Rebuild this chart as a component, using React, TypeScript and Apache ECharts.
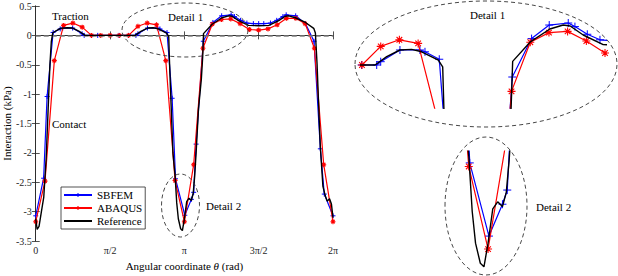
import React, { useEffect, useRef } from 'react';
import * as echarts from 'echarts';

const PI = Math.PI;
const thetaTickLabels = ['0', 'π/2', 'π', '3π/2', '2π'];

// ABAQUS nodes (uniform mesh, angle in rad) and interaction (kPa)
const abaqusTheta = [0, 0.196, 0.393, 0.589, 0.785, 0.982, 1.178, 1.374, 1.571, 1.767, 1.963, 2.16, 2.356, 2.553, 2.749, 2.945, 3.142, 3.338, 3.534, 3.731, 3.927, 4.123, 4.32, 4.516, 4.712, 4.909, 5.105, 5.301, 5.498, 5.694, 5.89, 6.087, 6.283];
const abaqusValues = [-3.17, -2.48, -0.43, 0.17, 0.21, 0.14, 0, 0, 0, 0, 0, 0.155, 0.21, 0.18, -0.43, -2.47, -3.17, -2.2, -0.22, 0.19, 0.27, 0.28, 0.2, 0.1, 0.09, 0.11, 0.18, 0.29, 0.29, 0.2, -0.22, -2.2, -3.17];

// SBFEM nodes
const sbfemTheta = [0, 0.167, 0.24, 0.367, 0.517, 0.57, 0.78, 0.98, 1.024, 1.31, 1.76, 1.96, 2.118, 2.16, 2.362, 2.572, 2.625, 2.775, 2.883, 2.955, 3.151, 3.289, 3.338, 3.39, 3.542, 3.745, 3.93, 4.13, 4.2, 4.33, 4.463, 4.6, 4.712, 4.82, 4.961, 5.094, 5.224, 5.294, 5.494, 5.7, 5.882, 6.016, 6.099, 6.283];
const sbfemValues = [-3.07, -2.43, -1.04, 0.05, 0.11, 0.125, 0.125, 0.0275, 0, 0, 0, 0, 0, 0.0275, 0.125, 0.125, 0.11, 0.048, -1.07, -2.44, -3.06, -2.79, -2.67, -1.85, -0.1, 0.22, 0.333, 0.35, 0.32, 0.256, 0.21, 0.2, 0.2, 0.2, 0.21, 0.256, 0.32, 0.35, 0.333, 0.2, -0.1, -1.93, -2.7, -3.07];

// Reference solution
const referenceTheta = [0, 0.03, 0.07, 0.12, 0.17, 0.22, 0.26, 0.3, 0.33, 0.36, 0.52, 0.66, 0.78, 0.92, 1.04, 2.1, 2.223, 2.362, 2.485, 2.59, 2.765, 2.811, 2.825, 2.85, 2.9, 2.945, 2.98, 3.014, 3.063, 3.1, 3.142, 3.19, 3.24, 3.289, 3.328, 3.357, 3.39, 3.44, 3.5, 3.53, 3.546, 3.728, 3.937, 4.077, 4.15, 4.287, 4.497, 4.712, 4.927, 5.137, 5.274, 5.347, 5.487, 5.7, 5.876, 5.911, 5.947, 5.99, 6.016, 6.07, 6.12, 6.16, 6.21, 6.25, 6.283];
const referenceValues = [-3.12, -3.3, -3.25, -3.0, -2.75, -2.1, -1.3, -0.5, -0.1, 0.045, 0.12, 0.13, 0.125, 0.07, 0, 0, 0.07, 0.125, 0.13, 0.11, 0.04, -0.015, -0.4, -0.95, -2.0, -2.38, -2.85, -3.12, -3.29, -3.32, -3.12, -2.83, -2.77, -2.81, -2.69, -2.42, -2.0, -1.25, -0.75, -0.35, 0.03, 0.19, 0.3, 0.333, 0.325, 0.25, 0.17, 0.165, 0.17, 0.25, 0.325, 0.333, 0.3, 0.22, 0.12, 0.04, -0.5, -1.4, -1.9, -2.57, -2.73, -2.82, -2.78, -2.87, -3.1];

const pair = (xs: number[], ys: number[]) => xs.map((x, i) => [x, ys[i]]);

const FONT = 'Liberation Serif';
const AXIS_COLOR = '#262626';
const PLUS = 'path://M5,0L5,10M0,5L10,5';
const STAR = 'path://M5,0L5,10M0,5L10,5M1.5,1.5L8.5,8.5M8.5,1.5L1.5,8.5';

function seriesFor(idx: number, markerSize: number, main: boolean) {
  const s: any[] = [
    {
      name: 'SBFEM', type: 'line', xAxisIndex: idx, yAxisIndex: idx,
      data: pair(sbfemTheta, sbfemValues), symbol: PLUS, symbolSize: markerSize, showAllSymbol: true,
      lineStyle: { color: '#0000ff', width: 1.2 },
      itemStyle: { color: '#0000ff', borderColor: '#0000ff', borderWidth: 1 },
      clip: true, z: 3,
    },
    {
      name: 'ABAQUS', type: 'line', xAxisIndex: idx, yAxisIndex: idx,
      data: pair(abaqusTheta, abaqusValues), symbol: STAR, symbolSize: markerSize, showAllSymbol: true,
      lineStyle: { color: '#ff0000', width: 1.2 },
      itemStyle: { color: '#ff0000', borderColor: '#ff0000', borderWidth: 1.1 },
      clip: true, z: 4,
    },
    {
      name: 'Reference', type: 'line', xAxisIndex: idx, yAxisIndex: idx,
      data: pair(referenceTheta, referenceValues), symbol: 'none',
      lineStyle: { color: '#000000', width: 1.4 },
      itemStyle: { color: '#000000' },
      clip: true, z: 5,
    },
  ];
  if (main) {
    s[2].markLine = {
      silent: true, symbol: ['none', 'none'], animation: false,
      label: { show: false },
      lineStyle: { color: '#808080', type: [5, 3], width: 1.5 },
      data: [{ yAxis: 0 }],
    };
  }
  return s;
}

const mainAxisCommon = {
  axisLine: { show: true, lineStyle: { color: AXIS_COLOR, width: 0.8 } },
  axisTick: { show: true, inside: true, length: 4, lineStyle: { color: AXIS_COLOR, width: 0.8 } },
  splitLine: { show: false },
};

export default function App() {
  const ref = useRef<HTMLDivElement>(null);
  useEffect(() => {
    document.body.style.margin = '0';
    document.body.style.background = '#fff';
    const chart = echarts.init(ref.current!, null, { renderer: 'svg' });
    const xFmt = (v: number) => {
      const k = Math.round(v / (PI / 2));
      return Math.abs(v - k * PI / 2) < 1e-6 ? thetaTickLabels[k] ?? '' : '';
    };
    const option: any = {
      animation: false,
      backgroundColor: '#ffffff',
      textStyle: { fontFamily: FONT },
      grid: [
        { left: 32, top: 6, width: 301, height: 240, containLabel: false },
        { left: 361.2, top: 14.6, width: (4.52 - 1.955) * 95.2, height: 93.6 },
        { left: 467.3, top: 151.1, width: 43.1, height: 120.4 },
      ],
      xAxis: [
        {
          ...mainAxisCommon, type: 'value', gridIndex: 0, position: 'bottom', min: 0, max: 2 * PI, interval: PI / 2,
          axisLabel: { formatter: xFmt, color: AXIS_COLOR, fontSize: 10, fontFamily: FONT, margin: 4 },
          name: 'Angular coordinate {i|θ} (rad)', nameLocation: 'middle', nameGap: 17,
          nameTextStyle: { fontSize: 11, fontFamily: FONT, color: '#000', rich: { i: { fontStyle: 'italic', fontSize: 11, fontFamily: FONT } } },
        },
        {
          ...mainAxisCommon, type: 'value', gridIndex: 0, position: 'top', min: 0, max: 2 * PI, interval: PI / 2,
          axisLabel: { show: false },
        },
        { type: 'value', gridIndex: 1, min: 1.955, max: 4.52, show: false, splitLine: { show: false } },
        { type: 'value', gridIndex: 2, min: 2.93, max: 3.37, show: false, splitLine: { show: false } },
      ],
      yAxis: [
        {
          ...mainAxisCommon, type: 'value', gridIndex: 0, position: 'left', min: -3.5, max: 0.5, interval: 0.5,
          axisLabel: { color: AXIS_COLOR, fontSize: 10, fontFamily: FONT, margin: 4 },
          name: 'Interaction (kPa)', nameLocation: 'middle', nameGap: 20,
          nameTextStyle: { fontSize: 11, fontFamily: FONT, color: '#000' },
        },
        {
          ...mainAxisCommon, type: 'value', gridIndex: 0, position: 'right', min: -3.5, max: 0.5, interval: 0.5,
          axisLabel: { show: false },
        },
        { type: 'value', gridIndex: 1, min: -0.36, max: 0.42, show: false, splitLine: { show: false } },
        { type: 'value', gridIndex: 2, min: -3.36, max: -2.34, show: false, splitLine: { show: false } },
      ],
      legend: {
        data: ['SBFEM', 'ABAQUS', { name: 'Reference', itemStyle: { opacity: 0 } }],
        orient: 'vertical', left: 61, top: 187,
        itemWidth: 28, itemHeight: 4, itemGap: 1,
        padding: [2, 3, 2, 2],
        backgroundColor: '#ffffff', borderColor: AXIS_COLOR, borderWidth: 0.8,
        textStyle: { fontFamily: FONT, fontSize: 11, color: '#000', lineHeight: 12 },
        z: 20,
      },
      series: [
        ...seriesFor(0, 5, true),
        ...seriesFor(2, 8, false),
        ...seriesFor(3, 8, false),
      ],
      graphic: [
        { type: 'ellipse', shape: { cx: 185, cy: 30, rx: 63, ry: 27 }, style: { fill: 'none', stroke: '#333', lineWidth: 0.9, lineDash: [4, 3] }, z: 10, silent: true },
        { type: 'ellipse', shape: { cx: 180.5, cy: 205.5, rx: 19, ry: 31.5 }, style: { fill: 'none', stroke: '#333', lineWidth: 0.9, lineDash: [4, 3] }, z: 10, silent: true },
        { type: 'ellipse', shape: { cx: 486, cy: 64, rx: 131, ry: 63 }, style: { fill: 'none', stroke: '#333', lineWidth: 0.9, lineDash: [4, 3] }, z: 10, silent: true },
        { type: 'ellipse', shape: { cx: 486, cy: 206, rx: 41, ry: 69 }, style: { fill: 'none', stroke: '#333', lineWidth: 0.9, lineDash: [4, 3] }, z: 10, silent: true },
        { type: 'text', x: 52, y: 10.5, style: { text: 'Traction', fontSize: 11, fontFamily: FONT, fill: '#000' }, z: 10 },
        { type: 'text', x: 52, y: 118.5, style: { text: 'Contact', fontSize: 11, fontFamily: FONT, fill: '#000' }, z: 10 },
        { type: 'text', x: 168, y: 11, style: { text: 'Detail 1', fontSize: 11, fontFamily: FONT, fill: '#000' }, z: 10 },
        { type: 'text', x: 206, y: 200.5, style: { text: 'Detail 2', fontSize: 11, fontFamily: FONT, fill: '#000' }, z: 10 },
        { type: 'text', x: 470, y: 9.5, style: { text: 'Detail 1', fontSize: 11, fontFamily: FONT, fill: '#000' }, z: 10 },
        { type: 'text', x: 536, y: 201, style: { text: 'Detail 2', fontSize: 11, fontFamily: FONT, fill: '#000' }, z: 10 },
      ],
    };
    chart.setOption(option);
    return () => chart.dispose();
  }, []);
  return <div ref={ref} style={{ width: 618, height: 276 }} />;
}
